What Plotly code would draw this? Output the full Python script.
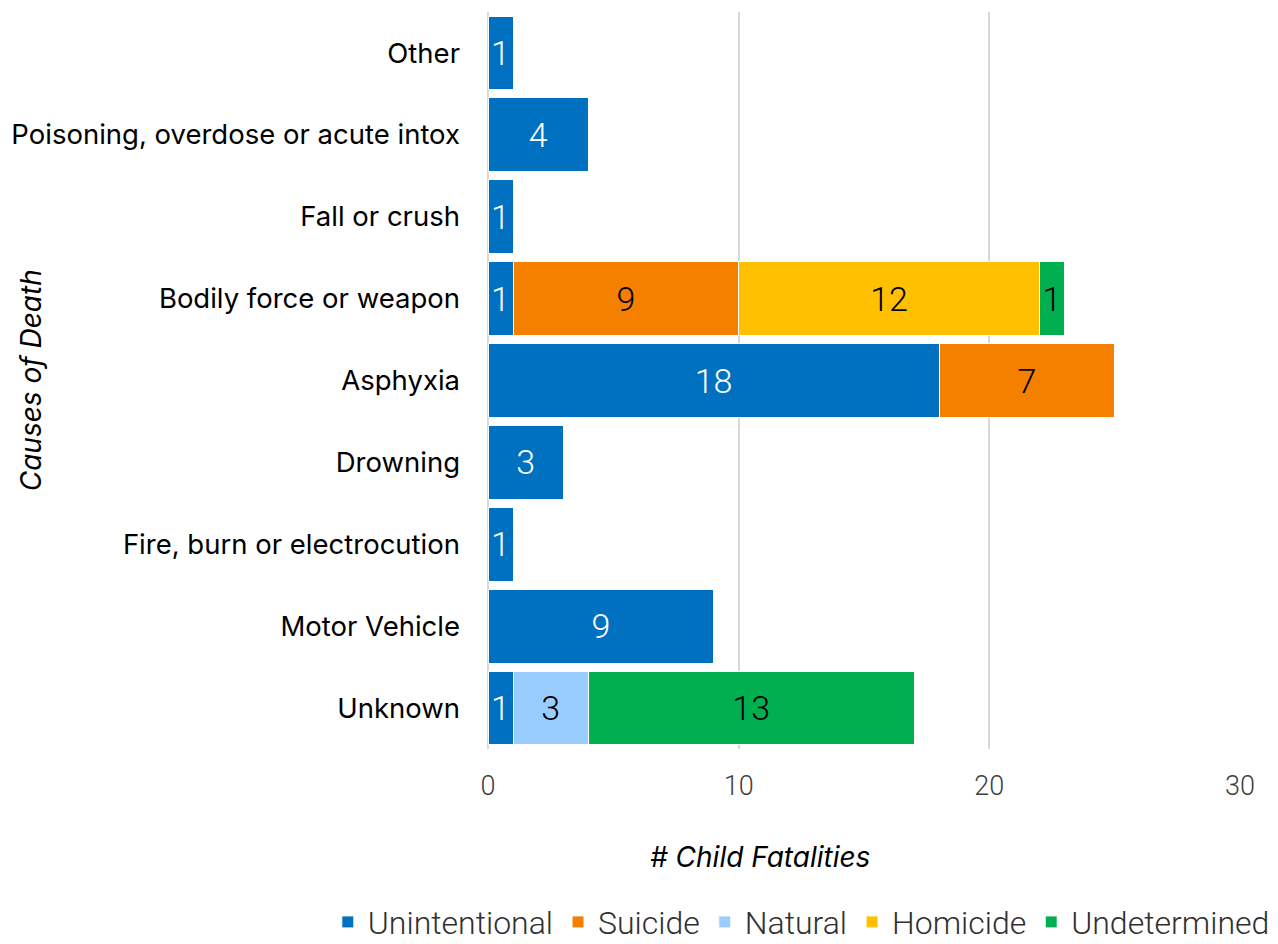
import plotly.graph_objects as go

# categories, bottom to top
causes = ['Unknown', 'Motor Vehicle', 'Fire, burn or electrocution', 'Drowning',
          'Asphyxia', 'Bodily force or weapon', 'Fall or crush',
          'Poisoning, overdose or acute intox', 'Other']

unintentional = [1, 9, 1, 3, 18, 1, 1, 4, 1]
suicide = [None, None, None, None, 7, 9, None, None, None]
natural = [3, None, None, None, None, None, None, None, None]
homicide = [None, None, None, None, None, 12, None, None, None]
undetermined = [13, None, None, None, None, 1, None, None, None]

series = [
    ('Unintentional', unintentional, '#0070C0', 'white'),
    ('Suicide', suicide, '#F58000', 'black'),
    ('Natural', natural, '#99CCFF', 'black'),
    ('Homicide', homicide, '#FFC000', 'black'),
    ('Undetermined', undetermined, '#00B050', 'black'),
]

xticks = [0, 10, 20, 30]

light = 'Roboto'

data = []
for name, vals, color, tcolor in series:
    data.append(go.Bar(
        y=causes, x=vals, name=name, orientation='h',
        marker={'color': color, 'line': {'color': 'white', 'width': 1}},
        text=[str(v) if v is not None else '' for v in vals],
        textposition='inside', insidetextanchor='middle',
        constraintext='none',
        textfont={'family': light, 'size': 34, 'color': tcolor, 'weight': 300},
        hoverinfo='x+y+name',
    ))

# page has an 8px body margin, so the figure is a bit smaller than the window
layout = go.Layout(
    barmode='stack',
    bargap=0.1,
    width=1270, height=936,
    margin={'l': 480, 'r': 38, 't': 4, 'b': 195, 'autoexpand': False},
    plot_bgcolor='white', paper_bgcolor='white',
    font={'family': 'Inter', 'size': 27, 'color': 'black'},
    xaxis={'range': [0, 30], 'tickvals': xticks, 'automargin': False,
           'showgrid': True, 'gridcolor': '#D9D9D9', 'gridwidth': 1.5,
           'zeroline': True, 'zerolinecolor': '#D9D9D9', 'zerolinewidth': 1.5,
           'tickfont': {'family': light, 'size': 27, 'color': '#404040', 'weight': 300},
           'ticks': '', 'ticklabelstandoff': 18, 'fixedrange': True},
    yaxis={'showgrid': False, 'ticks': '', 'ticklabelstandoff': 27,
           'automargin': False,
           'tickfont': {'family': 'Inter', 'size': 27.5, 'color': 'black'},
           'fixedrange': True},
    legend={'orientation': 'h', 'x': -0.213, 'xanchor': 'left',
            'y': -0.2722, 'yanchor': 'bottom',
            'font': {'family': light, 'size': 32, 'color': '#303030', 'weight': 300},
            'itemwidth': 30, 'tracegroupgap': 0, 'traceorder': 'normal'},
    annotations=[
        {'text': '<i># Child Fatalities</i>', 'xref': 'paper', 'yref': 'paper',
         'x': 0.362, 'y': -0.1465, 'showarrow': False,
         'xanchor': 'center', 'yanchor': 'middle',
         'font': {'family': 'Inter', 'size': 28, 'color': 'black'}},
        {'text': '<i>Causes of Death</i>', 'xref': 'paper', 'yref': 'paper',
         'x': -0.608, 'y': 0.5, 'textangle': -90, 'showarrow': False,
         'xanchor': 'center', 'yanchor': 'middle',
         'font': {'family': 'Inter', 'size': 28, 'color': 'black'}},
    ],
)

fig = go.Figure(data, layout)
fig.write_html("out.html")
